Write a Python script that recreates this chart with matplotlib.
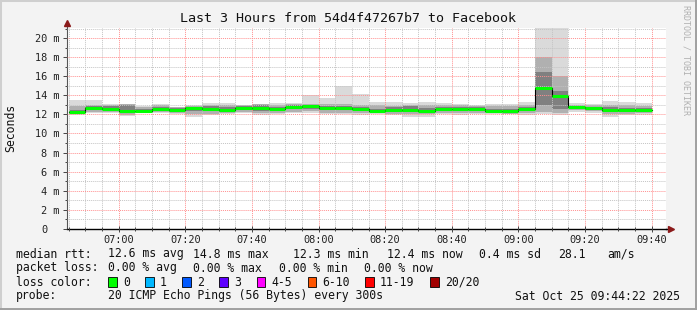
import matplotlib
matplotlib.use('Agg')
import matplotlib.pyplot as plt
import matplotlib.dates as mdates
import matplotlib.transforms as mtransforms
from matplotlib.patches import Rectangle
from matplotlib.lines import Line2D
from datetime import datetime

# 5 minute bins, start time of each
bin_starts = ['06:45', '06:50', '06:55', '07:00', '07:05', '07:10', '07:15', '07:20',
              '07:25', '07:30', '07:35', '07:40', '07:45', '07:50', '07:55', '08:00',
              '08:05', '08:10', '08:15', '08:20', '08:25', '08:30', '08:35', '08:40',
              '08:45', '08:50', '08:55', '09:00', '09:05', '09:10', '09:15', '09:20',
              '09:25', '09:30', '09:35']

# median rtt (ms)
median = [12.26, 12.72, 12.60, 12.37, 12.40, 12.60, 12.47, 12.72, 12.58, 12.47, 12.72, 12.65,
          12.58, 12.82, 12.86, 12.68, 12.72, 12.60, 12.40, 12.44, 12.50, 12.37, 12.60, 12.60,
          12.61, 12.40, 12.40, 12.58, 14.82, 13.95, 12.82, 12.68, 12.47, 12.47, 12.47]

# smoke: outer range of pings
ping_hi = [13.52, 13.52, 13.10, 13.10, 12.89, 13.10, 12.82, 12.95, 13.17, 13.17, 13.00, 13.10,
           13.17, 13.24, 14.04, 13.73, 15.00, 14.20, 13.28, 13.28, 13.17, 13.28, 13.17, 13.10,
           13.00, 13.07, 13.07, 13.28, 21.20, 21.20, 13.17, 13.07, 13.46, 13.32, 13.20]
ping_lo = [11.91, 12.12, 12.12, 11.84, 12.12, 12.19, 12.02, 11.74, 11.90, 12.05, 12.12, 11.95,
           12.05, 12.19, 12.12, 12.05, 12.05, 11.98, 12.05, 11.95, 11.70, 11.77, 12.05, 11.95,
           12.02, 12.02, 12.00, 11.95, 12.00, 11.95, 12.30, 12.20, 11.77, 11.95, 11.95]
# middle layer
mid_hi = [12.90, 13.00, 12.95, 13.05, 12.75, 12.95, 12.75, 12.90, 13.00, 12.95, 12.95, 13.05,
          12.95, 13.10, 13.15, 13.05, 13.10, 13.00, 12.95, 12.90, 12.95, 12.95, 12.95, 12.95,
          12.90, 12.85, 12.85, 12.95, 18.00, 16.00, 12.95, 12.95, 12.95, 12.95, 12.90]
mid_lo = [12.05, 12.30, 12.25, 11.95, 12.20, 12.30, 12.15, 12.00, 12.10, 12.15, 12.25, 12.15,
          12.20, 12.30, 12.35, 12.20, 12.20, 12.15, 12.15, 12.10, 12.00, 12.05, 12.20, 12.15,
          12.20, 12.15, 12.10, 12.15, 12.30, 12.20, 12.45, 12.35, 12.10, 12.10, 12.15]
# inner layer
core_hi = [12.50, 12.85, 12.85, 13.00, 12.60, 12.80, 12.65, 12.80, 12.85, 12.75, 12.85, 13.00,
           12.80, 12.95, 13.00, 12.90, 12.85, 12.80, 12.60, 12.75, 12.85, 12.70, 12.80, 12.80,
           12.75, 12.60, 12.60, 12.75, 16.50, 14.50, 12.85, 12.80, 12.75, 12.70, 12.65]
core_lo = [12.15, 12.50, 12.40, 12.15, 12.30, 12.45, 12.30, 12.40, 12.35, 12.30, 12.45, 12.35,
           12.40, 12.55, 12.60, 12.45, 12.50, 12.40, 12.25, 12.30, 12.25, 12.20, 12.40, 12.40,
           12.40, 12.25, 12.25, 12.40, 13.00, 12.60, 12.60, 12.50, 12.30, 12.30, 12.30]

y_ticks = [0, 2, 4, 6, 8, 10, 12, 14, 16, 18, 20]

loss_labels = ['0', '1', '2', '3', '4-5', '6-10', '11-19', '20/20']
loss_colors = ['#00ff00', '#00b8ff', '#0059ff', '#5e00ff', '#ff00ff', '#ff5500', '#ff0000', '#a10000']
loss_box_x = [108, 145, 182, 219, 256.5, 307.5, 365, 430]

rtt_stats = ['12.6 ms avg', '14.8 ms max', '12.3 ms min', '12.4 ms now', '0.4 ms sd', '28.1', 'am/s']
rtt_x = [107.6, 193, 293, 387, 479, 558, 607]
loss_stats = ['0.00 % avg', '0.00 % max', '0.00 % min', '0.00 % now']
loss_x = [107.6, 193, 279, 364]

day = '2025-10-25'
t_start, t_end = '06:44:22', '09:44:22'

W, H = 697, 310
MONO = 'DejaVu Sans Mono'
plt.rcParams['font.family'] = MONO


def tnum(s):
    fmt = '%Y-%m-%d %H:%M:%S' if s.count(':') == 2 else '%Y-%m-%d %H:%M'
    return mdates.date2num(datetime.strptime(day + ' ' + s, fmt))


def fx(x):
    return x / W


def fy(y):
    return 1 - y / H


fig = plt.figure(figsize=(W / 100, H / 100), dpi=100, facecolor='#f3f3f3')

# border
fig.patches.append(Rectangle((0, 0), 1, 1, transform=fig.transFigure, fill=False,
                             edgecolor='#cfcfcf', lw=2.2))
fig.add_artist(Line2D([0, 1], [fy(309), fy(309)], color='#a0a0a0', lw=1.4))
fig.add_artist(Line2D([fx(696), fx(696)], [0, 1], color='#a0a0a0', lw=1.4))

left, right, top, bottom = 66.5, 666.3, 28.3, 228.7
ax = fig.add_axes([fx(left), fy(bottom), fx(right - left), (bottom - top) / H])
ax.set_facecolor('white')

x0 = [tnum(s) for s in bin_starts]
step = 5 / 1440
x1 = [x + step for x in x0]

ax.bar(x0, [h - l for h, l in zip(ping_hi, ping_lo)], bottom=ping_lo, width=step,
       align='edge', color='#dadada', lw=0, zorder=1)
ax.bar(x0, [h - l for h, l in zip(mid_hi, mid_lo)], bottom=mid_lo, width=step,
       align='edge', color='#b0b0b0', lw=0, zorder=1.1)
ax.bar(x0, [h - l for h, l in zip(core_hi, core_lo)], bottom=core_lo, width=step,
       align='edge', color='#808080', lw=0, zorder=1.2)

ax.step(x0 + [x1[-1]], median + [median[-1]], where='post', color='black', lw=0.8, zorder=3)
ax.hlines(median, x0, x1, colors='#00ff00', lw=2.2, zorder=4)

ax.set_xlim(tnum(t_start), tnum(t_end))
ax.set_ylim(0, 21.05)

ax.xaxis.set_major_locator(mdates.MinuteLocator(byminute=[0, 20, 40]))
ax.xaxis.set_minor_locator(mdates.MinuteLocator(byminute=range(0, 60, 5)))
ax.xaxis.set_major_formatter(mdates.DateFormatter('%H:%M'))
ax.set_yticks(y_ticks)
ax.set_yticks(range(0, 22), minor=True)
ax.set_yticklabels([f'{v} m' if v else '0' for v in y_ticks])

ax.set_axisbelow(False)
ax.grid(which='major', color='#ff9090', ls=(0, (1, 1)), lw=0.7)
ax.grid(which='minor', color='#c4c4c4', ls=(0, (1, 1)), lw=0.7)

ax.tick_params(which='both', labelsize=7.4, labelcolor='#222222', color='#444444', width=0.7)
ax.tick_params(axis='y', which='major', length=3, pad=2)
ax.tick_params(axis='y', which='minor', length=1.5)
ax.tick_params(axis='x', which='major', direction='inout', length=5, pad=2)
ax.tick_params(axis='x', which='minor', direction='inout', length=3)

# zero label sits where the digits are, not the unit
zlab = ax.get_yticklabels()[0]
zlab.set_transform(zlab.get_transform() +
                   mtransforms.ScaledTranslation(-12.3 / 100, 0, fig.dpi_scale_trans))

for s in ['top', 'right']:
    ax.spines[s].set_visible(False)
ax.spines['left'].set_color('#555555')
ax.spines['left'].set_linewidth(0.8)
ax.spines['bottom'].set_color('black')
ax.spines['bottom'].set_linewidth(1.0)

# axis arrows
ax.plot([0, 0], [1, 1.02], transform=ax.transAxes, clip_on=False, color='#555555', lw=0.8)
ax.plot([0], [1.025], marker='^', ms=4.5, color='#8b1a1a', transform=ax.transAxes, clip_on=False)
ax.plot([1, 1.006], [0, 0], transform=ax.transAxes, clip_on=False, color='black', lw=1.0)
ax.plot([1.008], [0], marker='>', ms=4.5, color='#8b1a1a', transform=ax.transAxes, clip_on=False)

fig.text(fx(348), fy(19), 'Last 3 Hours from 54d4f47267b7 to Facebook',
         ha='center', va='center', fontsize=9.6, color='#111111')
fig.text(fx(11), fy(128), 'Seconds', rotation=90, ha='center', va='center',
         fontsize=8.3, color='#111111')
fig.text(fx(686), fy(60), 'RRDTOOL / TOBI OETIKER', rotation=270, ha='center', va='center',
         fontsize=6, color='#b0b0b0')

# legend rows
leg = dict(fontsize=8.3, color='#111111', va='center', ha='left')
fig.text(fx(16), fy(254), 'median rtt:', **leg)
for s, x in zip(rtt_stats, rtt_x):
    fig.text(fx(x), fy(254), s, **leg)
fig.text(fx(16), fy(268), 'packet loss:', **leg)
for s, x in zip(loss_stats, loss_x):
    fig.text(fx(x), fy(268), s, **leg)
fig.text(fx(16), fy(282), 'loss color:', **leg)
for lab, col, x in zip(loss_labels, loss_colors, loss_box_x):
    fig.patches.append(Rectangle((fx(x), fy(286.5)), 8.5 / W, 9.5 / H, transform=fig.transFigure,
                                 facecolor=col, edgecolor='black', lw=0.6))
    fig.text(fx(x + 15), fy(282), lab, **leg)
fig.text(fx(16), fy(296), 'probe:', **leg)
fig.text(fx(107.6), fy(296), '20 ICMP Echo Pings (56 Bytes) every 300s', **leg)
fig.text(fx(680), fy(296), 'Sat Oct 25 09:44:22 2025', fontsize=8.3, color='#111111',
         va='center', ha='right')

fig.savefig('out.png', dpi=100, facecolor=fig.get_facecolor())
